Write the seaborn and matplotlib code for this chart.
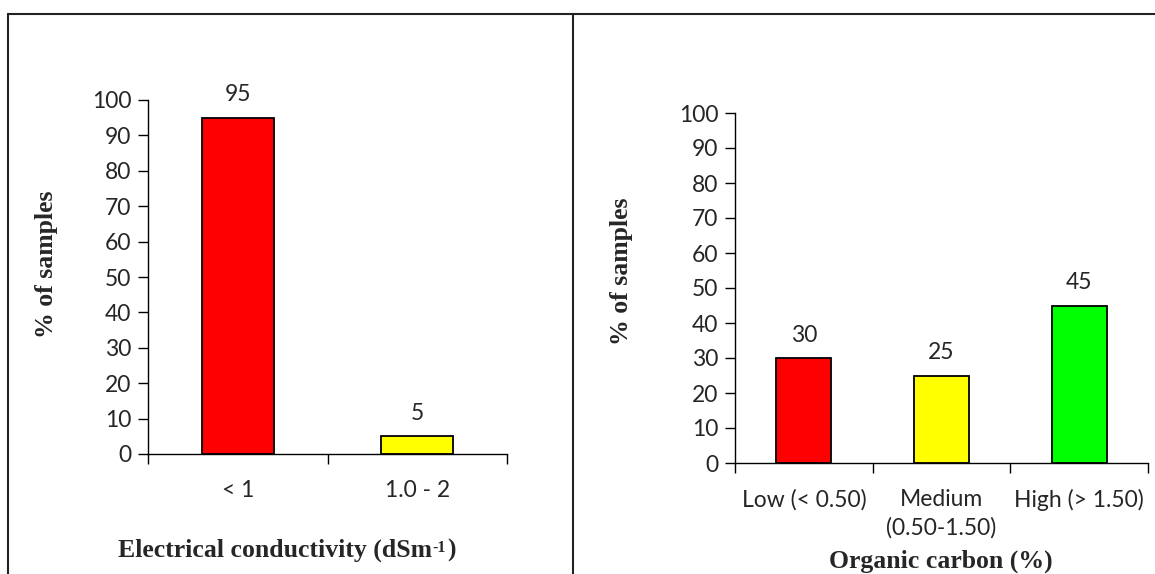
import matplotlib
matplotlib.use("Agg")
import matplotlib.pyplot as plt
from matplotlib.lines import Line2D
import seaborn as sns
import pandas as pd

# Soil test summaries: share of samples in each class
ec_classes = ["< 1", "1.0 - 2"]
ec_percent = [95, 5]
ec_colors = ["#ff0000", "#ffff00"]

oc_classes = ["Low (< 0.50)", "Medium\n(0.50-1.50)", "High (> 1.50)"]
oc_percent = [30, 25, 45]
oc_colors = ["#ff0000", "#ffff00", "#00ff00"]

y_ticks = list(range(0, 101, 10))

sns.set_theme(style="white")
plt.rcParams["font.family"] = ["Lato", "DejaVu Sans"]

W, H = 1155, 574
fig = plt.figure(figsize=(W / 100, H / 100), dpi=100)


def px_axes(x0, y0, x1, y1):
    """Axes from pixel box (left, top, right, bottom)."""
    return fig.add_axes([x0 / W, 1 - y1 / H, (x1 - x0) / W, (y1 - y0) / H])


TICK_FS = 16.5
SERIF = dict(fontfamily="Liberation Serif", fontweight="bold")
LABEL_FS = 18.5


def draw_panel(ax, classes, values, colors):
    df = pd.DataFrame({"cls": classes, "pct": values})
    sns.barplot(data=df, x="cls", y="pct", hue="cls", palette=colors,
                order=classes, hue_order=classes, width=0.4,
                edgecolor="black", linewidth=1.3, legend=False, ax=ax,
                saturation=1)
    n = len(classes)
    ax.set_xlim(-0.5, n - 0.5)
    ax.set_ylim(0, 100)
    ax.set_yticks(y_ticks)
    ax.set_yticklabels([str(t) for t in y_ticks], fontsize=TICK_FS)
    # boundary ticks between categories, labels at category centres
    ax.set_xticks([i - 0.5 for i in range(n + 1)])
    ax.set_xticklabels([""] * (n + 1))
    ax.set_xticks(range(n), minor=True)
    ax.set_xticklabels(classes, minor=True, fontsize=TICK_FS,
                       linespacing=1.4)
    ax.tick_params(axis="x", which="minor", length=0, pad=19)
    ax.tick_params(axis="x", which="major", length=7, width=1,
                   color="black", direction="out", bottom=True)
    ax.tick_params(axis="y", length=7, width=1, color="black",
                   direction="out", left=True, pad=5)
    for side in ("top", "right"):
        ax.spines[side].set_visible(False)
    for side in ("left", "bottom"):
        ax.spines[side].set_color("black")
        ax.spines[side].set_linewidth(1)
    ax.set_xlabel("")
    ax.set_ylabel("% of samples", fontsize=LABEL_FS, **SERIF)
    for i, v in enumerate(values):
        ax.annotate(f"{v}", xy=(i, v), xytext=(0, 9),
                    textcoords="offset points", ha="center", va="bottom",
                    fontsize=TICK_FS)


ax1 = px_axes(148, 100, 507, 454)
draw_panel(ax1, ec_classes, ec_percent, ec_colors)
ax1.yaxis.set_label_coords((58 - 148) / (507 - 148), (454 - 264) / 354)

ax2 = px_axes(735, 113, 1148, 463)
draw_panel(ax2, oc_classes, oc_percent, oc_colors)
ax2.yaxis.set_label_coords((633 - 735) / (1148 - 735), (463 - 271) / 350)

# x-axis titles; the conductivity unit carries a superscript
main = fig.text(118 / W, 1 - 557 / H, "Electrical conductivity (dSm",
                ha="left", va="baseline", fontsize=LABEL_FS, **SERIF)
sup = plt.annotate("-1", xy=(1, 1), xycoords=main, xytext=(0.5, -1),
                   textcoords="offset points", ha="left", va="top",
                   fontsize=11.5, annotation_clip=False, **SERIF)
sup.remove()
fig.add_artist(sup)
close = plt.annotate(")", xy=(1, 0), xycoords=(sup, main), xytext=(0.5, 0),
                     textcoords="offset points", ha="left", va="bottom",
                     fontsize=LABEL_FS, annotation_clip=False, **SERIF)
close.remove()
fig.add_artist(close)

fig.text(941 / W, 1 - 568 / H, "Organic carbon (%)", ha="center",
         va="baseline", fontsize=LABEL_FS, **SERIF)

# frame lines around the two panels
frame_kw = dict(color="#222222", linewidth=1.5)
fig.add_artist(Line2D([8 / W, 1], [1 - 14 / H, 1 - 14 / H], **frame_kw))
fig.add_artist(Line2D([8 / W, 8 / W], [0, 1 - 14 / H], **frame_kw))
fig.add_artist(Line2D([573 / W, 573 / W], [0, 1 - 14 / H], **frame_kw))

fig.savefig("out.png", dpi=100, facecolor="white")
